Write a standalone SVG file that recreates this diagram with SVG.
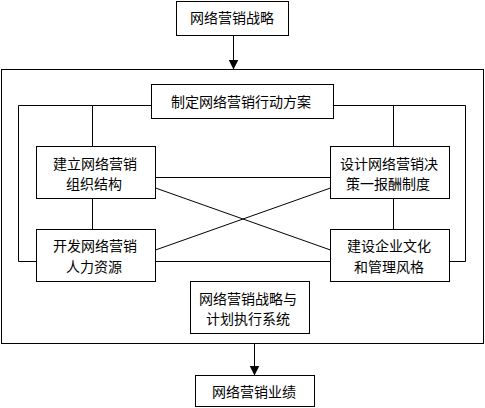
<svg xmlns="http://www.w3.org/2000/svg" width="485" height="408" viewBox="0 0 485 408">
<style>
rect{fill:#fff;stroke:#000;stroke-width:1}
line,polyline{stroke:#000;stroke-width:1;fill:none}
text{font-family:"Noto Sans CJK SC","Noto Sans CJK TC",sans-serif;font-size:14px;fill:#000;text-anchor:middle;dominant-baseline:central}
</style>
<defs>
<marker id="arr" markerUnits="userSpaceOnUse" markerWidth="11" markerHeight="11" refX="10" refY="5.5" orient="auto" viewBox="0 0 11 11">
<path d="M0,0.5 L10,5.5 L0,10.5 z" fill="#000"/>
</marker>
</defs>
<rect id="frame" x="1.5" y="69.5" width="482" height="274"/>
<g id="connectors">
<line x1="233.5" y1="35.5" x2="233.5" y2="69.5" marker-end="url(#arr)"/>
<line x1="254.5" y1="343.5" x2="254.5" y2="375.5" marker-end="url(#arr)"/>
<polyline points="151.5,105.5 18.5,105.5 18.5,261.5 36.5,261.5"/>
<polyline points="333.5,105.5 465.5,105.5 465.5,261.5 449.5,261.5"/>
<line x1="92.5" y1="105.5" x2="92.5" y2="146.5"/>
<line x1="393.5" y1="105.5" x2="393.5" y2="146.5"/>
<line x1="92.5" y1="198.5" x2="92.5" y2="229.5"/>
<line x1="393.5" y1="198.5" x2="393.5" y2="229.5"/>
<line x1="155.5" y1="177.5" x2="330.5" y2="177.5"/>
<line x1="155.5" y1="261.5" x2="330.5" y2="261.5"/>
<line x1="155.5" y1="188" x2="330.5" y2="250"/>
<line x1="155.5" y1="250" x2="330.5" y2="188"/>
</g>
<g id="n-strategy">
<rect x="176.5" y="1.5" width="112" height="34"/>
<text x="232" y="17">网络营销战略</text>
</g>
<g id="n-plan">
<rect x="151.5" y="84.5" width="182" height="34"/>
<text x="241" y="100.5">制定网络营销行动方案</text>
</g>
<g id="n-org">
<rect x="36.5" y="146.5" width="119" height="52"/>
<text x="95" y="163">建立网络营销</text>
<text x="94" y="183">组织结构</text>
</g>
<g id="n-decision">
<rect x="330.5" y="146.5" width="119" height="52"/>
<text x="389" y="163">设计网络营销决</text>
<text x="388" y="183">策一报酬制度</text>
</g>
<g id="n-hr">
<rect x="36.5" y="229.5" width="119" height="52"/>
<text x="95" y="245">开发网络营销</text>
<text x="94" y="266">人力资源</text>
</g>
<g id="n-culture">
<rect x="330.5" y="229.5" width="119" height="52"/>
<text x="389" y="245">建设企业文化</text>
<text x="389" y="266">和管理风格</text>
</g>
<g id="n-system">
<rect x="190.5" y="281.5" width="119" height="52"/>
<text x="248" y="298">网络营销战略与</text>
<text x="248" y="318">计划执行系统</text>
</g>
<g id="n-result">
<rect x="195.5" y="375.5" width="119" height="31"/>
<text x="254" y="391">网络营销业绩</text>
</g>
</svg>
